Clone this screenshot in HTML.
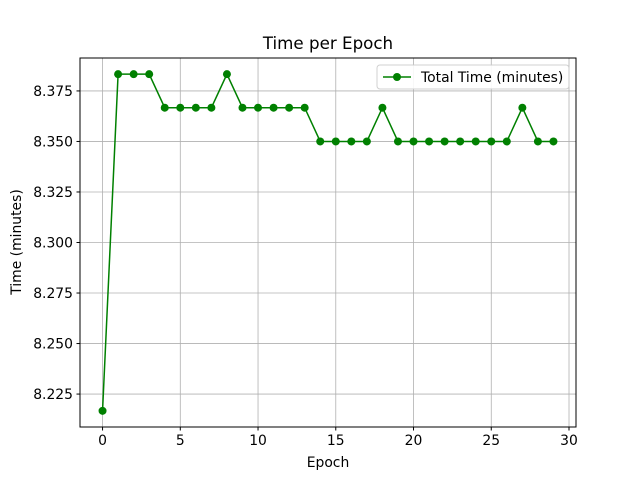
<!DOCTYPE html>
<html><head><meta charset="utf-8"><style>
body{margin:0;background:#fff;}
svg{display:block;font-family:"DejaVu Sans","Liberation Sans",sans-serif;}
</style></head><body>
<svg id="chart" width="640" height="480">
<rect x="0" y="0" width="640" height="480" fill="#fff"/>
<g id="grid"></g>
<g id="ticks"></g>
<rect x="80" y="58" width="496" height="369" fill="none" stroke="#000" stroke-width="1"/>
<g id="series"></g>
<text x="328" y="49" text-anchor="middle" font-size="16.7">Time per Epoch</text>
<text x="328" y="467" text-anchor="middle" font-size="13.9">Epoch</text>
<text transform="translate(21,242) rotate(-90)" text-anchor="middle" font-size="13.9">Time (minutes)</text>
<g>
<rect x="377" y="65" width="192" height="24" rx="3" fill="#fff" stroke="#ccc" opacity="0.9"/>
<line x1="383" y1="77" x2="411" y2="77" stroke="green" stroke-width="1.5"/>
<circle cx="397" cy="77" r="4" fill="green"/>
<text x="421" y="82" font-size="13.9">Total Time (minutes)</text>
</g>
</svg>
<script>
const epochs=[0,1,2,3,4,5,6,7,8,9,10,11,12,13,14,15,16,17,18,19,20,21,22,23,24,25,26,27,28,29];
const times=[8.2167,8.3833,8.3833,8.3833,8.3667,8.3667,8.3667,8.3667,8.3833,8.3667,8.3667,8.3667,8.3667,8.3667,8.35,8.35,8.35,8.35,8.3667,8.35,8.35,8.35,8.35,8.35,8.35,8.35,8.35,8.3667,8.35,8.35];
const xTicks=[0,5,10,15,20,25,30];
const yTicks=[8.225,8.250,8.275,8.300,8.325,8.350,8.375];
const X0=80,X1=576,Y0=58,Y1=427,xmin=-1.45,xmax=30.45,ymin=8.2087,ymax=8.3913;
function sx(v){return X0+(v-xmin)/(xmax-xmin)*(X1-X0);}
function sy(v){return Y1-(v-ymin)/(ymax-ymin)*(Y1-Y0);}
const NS="http://www.w3.org/2000/svg";
function mk(t,a,p){const e=document.createElementNS(NS,t);for(const k in a)e.setAttribute(k,a[k]);p.appendChild(e);return e;}
const grid=document.getElementById('grid'),ticks=document.getElementById('ticks'),series=document.getElementById('series');
xTicks.forEach(v=>{const x=sx(v);
const g=mk('line',{x1:x,x2:x,y1:Y0,y2:Y1,stroke:'#b0b0b0','stroke-width':0.8},grid);


mk('line',{x1:x,x2:x,y1:Y1,y2:Y1+3.5,stroke:'#000'},ticks);
const t=mk('text',{x:x,y:Y1+18,'text-anchor':'middle','font-size':13.9},ticks);t.textContent=v;

});
yTicks.forEach(v=>{const y=sy(v);
const g=mk('line',{x1:X0,x2:X1,y1:y,y2:y,stroke:'#b0b0b0','stroke-width':0.8},grid);


mk('line',{x1:X0-3.5,x2:X0,y1:y,y2:y,stroke:'#000'},ticks);
const t=mk('text',{x:X0-7,y:y+5,'text-anchor':'end','font-size':13.9},ticks);t.textContent=v.toFixed(3);

});
const pts=epochs.map((e,i)=>sx(e)+','+sy(times[i])).join(' ');
const pl=mk('polyline',{points:pts,fill:'none',stroke:'green','stroke-width':1.5},series);


epochs.forEach((e,i)=>{const c=mk('circle',{cx:sx(e),cy:sy(times[i]),r:4,fill:'green'},series);

});
</script>
</body></html>
